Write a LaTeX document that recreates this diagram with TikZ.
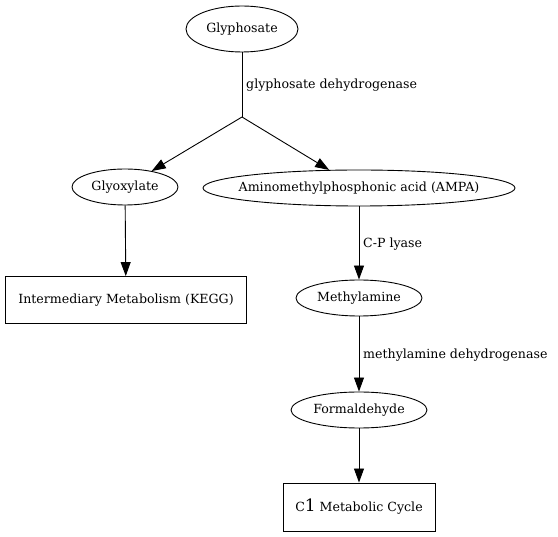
\documentclass[tikz,border=0pt]{standalone}
\usepackage{fontspec}
\setmainfont{DejaVu Serif}
\usetikzlibrary{shapes.geometric,arrows.meta}
\begin{document}
\begin{tikzpicture}[x=1pt,y=-1pt,
  every node/.style={font=\fontsize{12.6}{15}\selectfont},
  ell/.style={draw,ellipse,inner sep=0pt,line width=0.9pt},
  rbox/.style={draw,rectangle,inner sep=0pt,line width=0.9pt},
  edge/.style={draw,line width=0.9pt,-{Triangle[length=14pt,width=10pt]}},
  plain/.style={draw,line width=0.9pt},
  lbl/.style={anchor=west,inner sep=0pt}]
\useasboundingbox (0,0) rectangle (558,537);
\node[ell,minimum width=112pt,minimum height=46pt] (gly) at (242,29) {Glyphosate};
\coordinate (j) at (242,117);
\node[ell,minimum width=106pt,minimum height=36pt] (glx) at (125,187) {Glyoxylate};
\node[ell,inner xsep=-12pt,minimum width=312pt,minimum height=36pt] (ampa) at (359,188) {Aminomethylphosphonic acid (AMPA)};
\node[rbox,minimum width=241pt,minimum height=47pt] (kegg) at (126,300) {Intermediary Metabolism (KEGG)};
\node[ell,minimum width=126pt,minimum height=36pt] (meth) at (359,298) {Methylamine};
\node[ell,minimum width=136pt,minimum height=36pt] (form) at (359,410) {Formaldehyde};
\node[rbox,minimum width=152pt,minimum height=48pt] (c1) at (359,507) {C{\fontsize{17}{18}\selectfont 1} Metabolic Cycle};
\draw[plain] (gly) -- (j);
\node[lbl] (l1) at (246,85) {glyphosate dehydrogenase};
\draw[edge] (j) -- (glx);
\draw[edge] (j) -- (ampa);
\draw[edge] (glx) -- (kegg);
\draw[edge] (ampa) -- (meth);
\node[lbl] (l2) at (363,244) {C-P lyase};
\draw[edge] (meth) -- (form);
\node[lbl] (l3) at (363,355) {methylamine dehydrogenase};
\draw[edge] (form) -- (c1);
\end{tikzpicture}
\end{document}
